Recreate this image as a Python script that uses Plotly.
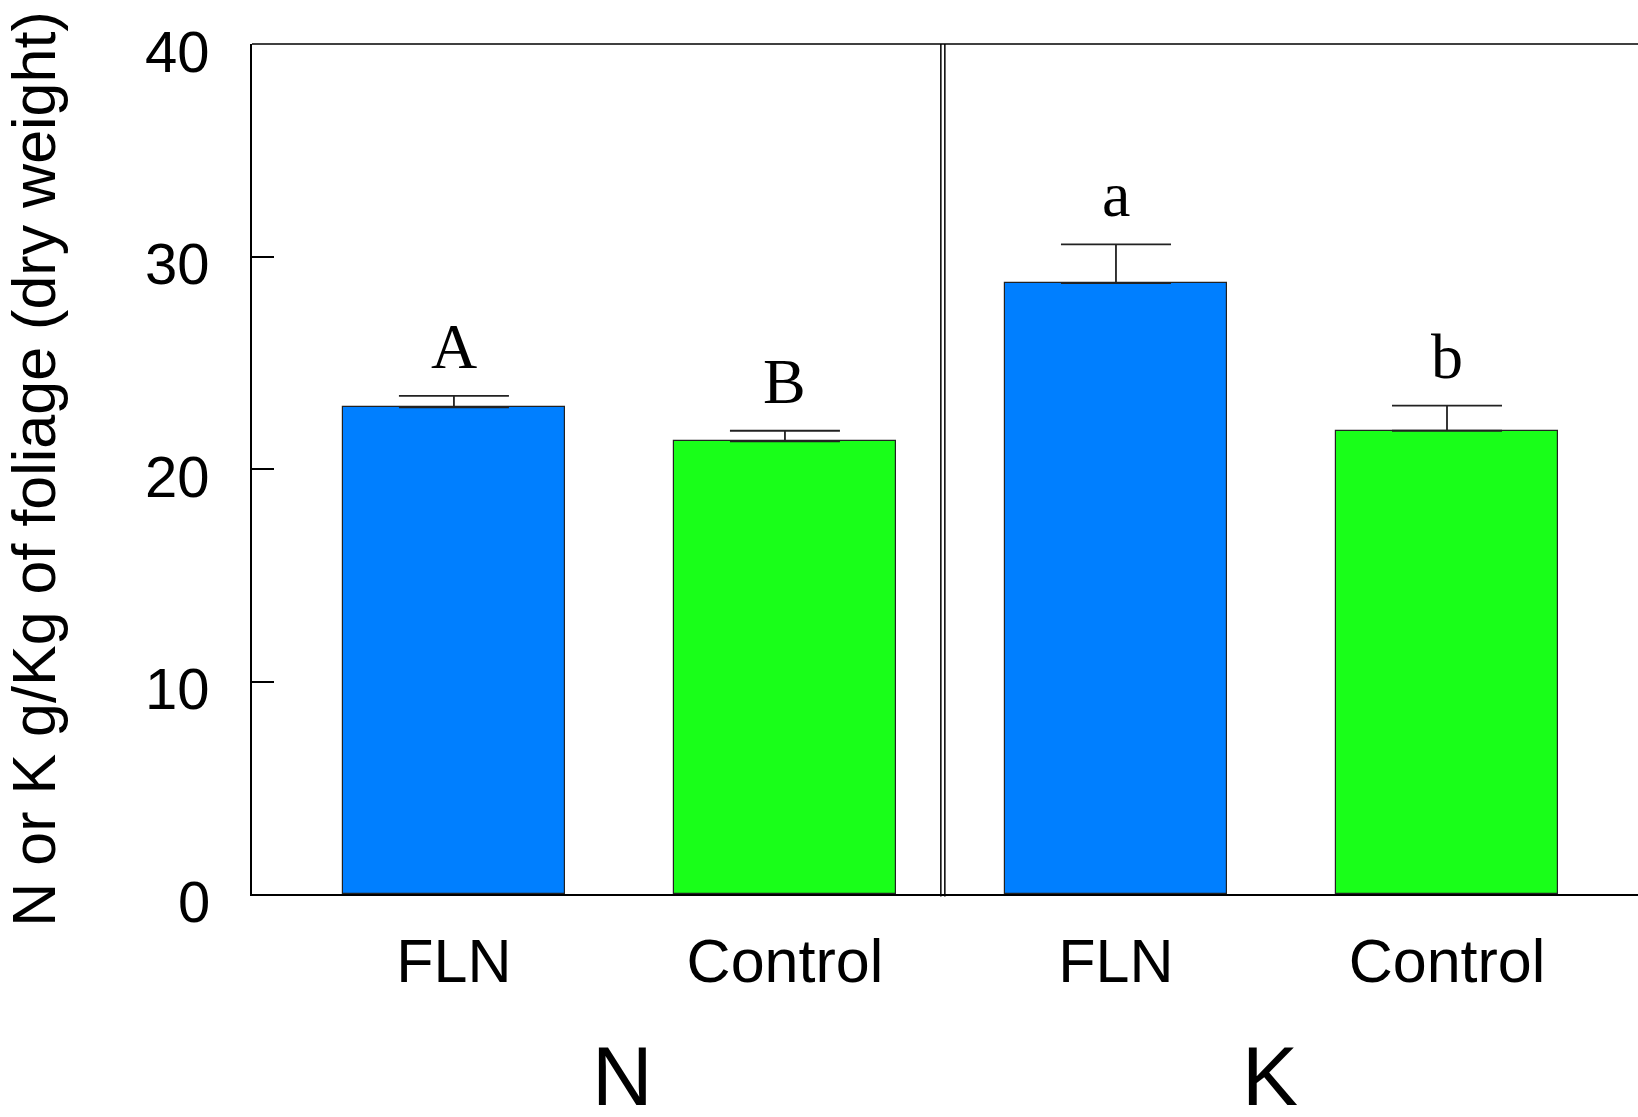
import plotly.graph_objects as go

categories = ["FLN", "Control", "FLN", "Control"]
groups = ["N", "K"]
values = [22.9, 21.3, 28.75, 21.8]
errors = [0.54, 0.5, 1.82, 1.18]
letters = ["A", "B", "a", "b"]
colors = ["#007FFF", "#19FF19", "#007FFF", "#19FF19"]
y_ticks = [0, 10, 20, 30, 40]

xpos = list(range(len(categories)))
group_label_x = [0.51, 2.465]

fig = go.Figure()
fig.add_trace(go.Bar(
    x=xpos, y=values, width=0.672,
    marker=dict(color=colors, line=dict(color="#222222", width=1.2)),
    error_y=dict(type="data", array=errors, visible=True, symmetric=False,
                 arrayminus=[0] * len(errors),
                 color="#222222", thickness=1.8, width=55),
    showlegend=False,
))

for i, (v, e, t) in enumerate(zip(values, errors, letters)):
    fig.add_annotation(x=xpos[i], y=v + e, text=t, showarrow=False,
                       xref="x", yref="y", yanchor="bottom", yshift=12,
                       font=dict(family="Liberation Serif", size=64, color="black"))

# y tick labels (slightly below their ticks, as in the reference)
for t in y_ticks:
    fig.add_annotation(x=0, y=t, xref="paper", yref="y", text=str(t),
                       showarrow=False, xanchor="right", yanchor="middle",
                       xshift=-40, yshift=-7,
                       font=dict(family="Liberation Sans", size=58, color="black"))

for gx, g in zip(group_label_x, groups):
    fig.add_annotation(x=gx, y=-0.214, xref="x", yref="paper",
                       text=g, showarrow=False, yanchor="middle", valign="middle",
                       height=86,
                       font=dict(family="Liberation Sans", size=84, color="black"))

# double divider between groups
for dx in (-2, 2):
    fig.add_shape(type="line", xref="x", yref="paper", xsizemode="pixel", xanchor=1.477,
                  x0=dx, x1=dx, y0=-0.003, y1=1,
                  line=dict(color="black", width=1.5))
# top frame line
fig.add_shape(type="line", xref="paper", yref="paper", x0=0, x1=1, y0=1, y1=1,
              line=dict(color="black", width=1.5))

fig.update_layout(
    width=1638, height=1117,
    margin=dict(l=252, r=0, t=44, b=223, autoexpand=False),
    paper_bgcolor="white", plot_bgcolor="white",
    bargap=0,
    font=dict(family="Liberation Sans", color="black"),
    xaxis=dict(
        range=[-0.61, 3.577], tickvals=xpos, ticktext=categories,
        showline=True, linecolor="black", linewidth=1.5,
        showgrid=False, zeroline=False, ticks="", automargin=False,
        tickfont=dict(family="Liberation Sans", size=61, color="black"),
        ticklabelstandoff=13,
    ),
    yaxis=dict(
        range=[0, 40], tickvals=y_ticks, showticklabels=False,
        showline=True, linecolor="black", linewidth=1.5,
        showgrid=False, zeroline=False, automargin=False,
        ticks="inside", ticklen=22, tickwidth=1.5, tickcolor="black",
        title=dict(text="N or K g/Kg of foliage (dry weight)",
                   font=dict(family="Liberation Sans", size=61, color="black"),
                   standoff=180),
    ),
)

fig.write_html("out.html", config={"displayModeBar": False},
               post_script="document.body.style.margin='0';document.body.style.overflow='hidden';")
